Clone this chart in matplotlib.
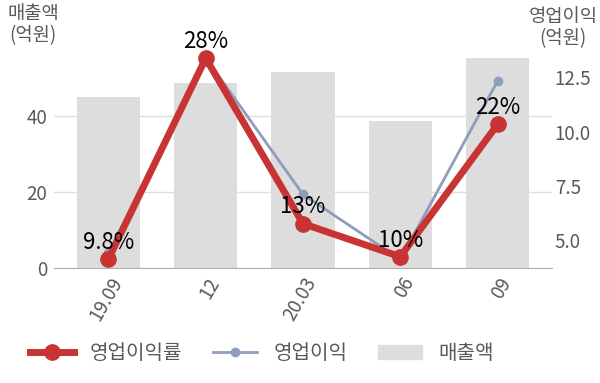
import matplotlib
matplotlib.use("Agg")
import matplotlib.pyplot as plt
from matplotlib.lines import Line2D
from matplotlib.patches import Patch

plt.rcParams['font.family'] = ['Noto Sans CJK KR', 'DejaVu Sans']

categories = ["19.09", "12", "20.03", "06", "09"]
sales = [45.1, 48.9, 51.7, 38.8, 55.3]          # 매출액 (억원)
op_profit = [4.4, 13.4, 7.1, 4.1, 12.33]          # 영업이익 (억원)
op_margin = [9.8, 28, 13, 10, 22]                 # 영업이익률 (%)
margin_labels = ["9.8%", "28%", "13%", "10%", "22%"]
left_ticks = [0, 20, 40]
right_ticks = [5.0, 7.5, 10.0, 12.5]

RED = "#c83434"
BLUE = "#8f9cbb"
BAR = "#dddddd"
TICK = "#595959"

fig = plt.figure(figsize=(6, 3.83), dpi=100)
ax = fig.add_axes([0.09, 0.3003, 0.83, 0.5692])
x = list(range(len(categories)))

ax.bar(x, sales, width=0.65, color=BAR, zorder=2)
ax.set_xlim(-0.56, 4.56)
ax.set_ylim(0, 57.5)
ax.set_yticks(left_ticks)
ax.yaxis.grid(True, color="#e0e0e0", linewidth=1, zorder=0)
ax.set_axisbelow(True)
for s in ["top", "right", "left"]:
    ax.spines[s].set_visible(False)
ax.spines["bottom"].set_color("#b0b0b0")
ax.tick_params(axis="y", length=0, labelsize=13.5, labelcolor=TICK, pad=5)
ax.tick_params(axis="x", length=0, labelsize=13.5, labelcolor=TICK, pad=4)
ax.set_xticks(x)
ax.set_xticklabels(categories, rotation=60, ha="right", rotation_mode="anchor")

ax2 = ax.twinx()
ax2.set_ylim(3.71, 13.76)
ax2.set_yticks(right_ticks)
ax2.set_yticklabels(["5.0", "7.5", "10.0", "12.5"])
for s in ax2.spines.values():
    s.set_visible(False)
ax2.tick_params(axis="y", length=0, labelsize=13.5, labelcolor=TICK, pad=2)
ax2.plot(x, op_profit, color=BLUE, linewidth=2, marker="o", markersize=6, zorder=3)

ax3 = ax.twinx()
ax3.set_ylim(8.98, 28.75)
ax3.axis("off")
ax3.plot(x, op_margin, color=RED, linewidth=5, marker="o", markersize=11, zorder=4)
for xi, yi, t in zip(x, op_margin, margin_labels):
    ax3.annotate(t, (xi, yi), xytext=(0, 12), textcoords="offset points",
                 ha="center", va="center", fontsize=16, color="black", zorder=5)

fig.text(0.055, 0.88, "매출액\n(억원)", ha="center", va="bottom", fontsize=13.5,
         color=TICK, linespacing=1.05)
fig.text(0.938, 0.872, "영업이익\n(억원)", ha="center", va="bottom", fontsize=13.5,
         color=TICK, linespacing=1.05)

handles = [
    Line2D([], [], color=RED, linewidth=5, marker="o", markersize=11),
    Line2D([], [], color=BLUE, linewidth=2, marker="o", markersize=6),
    Patch(color=BAR),
]
fig.legend(handles, ["영업이익률", "영업이익", "매출액"], loc="center",
           bbox_to_anchor=(0.436, 0.078), ncol=3, frameon=False, fontsize=14.5,
           handlelength=2.2, columnspacing=1.5, handletextpad=0.8,
           labelcolor=TICK)

fig.savefig("out.png", dpi=100)
